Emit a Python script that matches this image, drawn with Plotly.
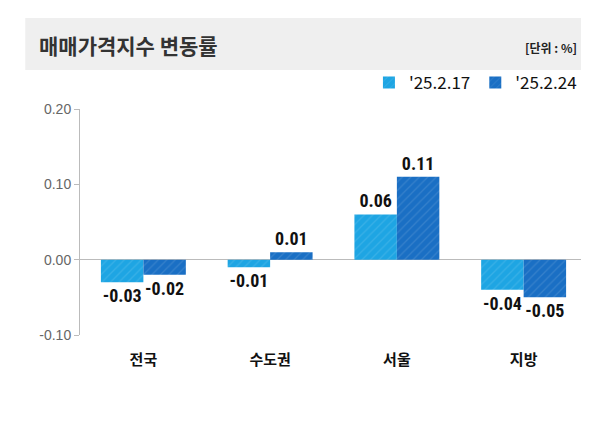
import plotly.graph_objects as go

categories = ["전국", "수도권", "서울", "지방"]
s1_name = "'25.2.17"
s2_name = "'25.2.24"
s1 = [-0.03, -0.01, 0.06, -0.04]
s2 = [-0.02, 0.01, 0.11, -0.05]
yticks = [-0.10, 0.00, 0.10, 0.20]

fig = go.Figure()
for name, vals, col in [(s1_name, s1, "#1EA5E3"), (s2_name, s2, "#1A6FC4")]:
    fig.add_bar(x=categories, y=vals, name=name, marker_color=col,
                marker_line_width=0,
                marker_pattern=dict(shape="/", fgcolor="white", fgopacity=0.12, size=6, solidity=0.2),
                text=[f"<b>{v:.2f}</b>" for v in vals], textposition="outside",
                textfont=dict(family="Roboto Condensed, Roboto", size=18, color="#111"), cliponaxis=False)

fig.update_layout(
    width=589, height=421, paper_bgcolor="white", plot_bgcolor="white",
    margin=dict(l=72, r=10, t=101, b=94, autoexpand=False),
    barmode="group", bargap=0.33, bargroupgap=0,
    font=dict(family="Noto Sans CJK KR"),
    legend=dict(orientation="h", x=0.99, xanchor="right", yref="container", y=0.822, yanchor="middle",
                font=dict(family="Noto Sans CJK KR", size=17, color="#111"),
                itemwidth=30, traceorder="normal", bgcolor="rgba(0,0,0,0)"),
    showlegend=True,
    shapes=[dict(type="rect", xref="paper", yref="paper", x0=-0.108, x1=1.012,
                 y0=1.173, y1=1.403, fillcolor="#EFEFEF", line_width=0, layer="below")],
    annotations=[
        dict(text="<b>매매가격지수 변동률</b>", xref="paper", yref="paper", x=-0.085, y=1.285,
             xanchor="left", yanchor="middle", showarrow=False,
             font=dict(size=21, color="#333", family="Noto Sans CJK KR")),
        dict(text="<b>[단위 : %]</b>", xref="paper", yref="paper", x=0.985, y=1.27,
             xanchor="right", yanchor="middle", showarrow=False,
             font=dict(size=12, color="#222", family="Noto Sans CJK KR")),
    ],
)
fig.update_yaxes(range=[-0.10, 0.20], tickvals=yticks, ticktext=[f"{v:.2f}" for v in yticks],
                 showgrid=False, showline=True, linecolor="#bbb", ticks="outside", ticklen=5,
                 tickcolor="#bbb", zeroline=True, zerolinecolor="#bbb", zerolinewidth=1,
                 tickfont=dict(family="Liberation Sans", size=14, color="#666"))
fig.update_xaxes(showline=False, showgrid=False, ticks="",
                 tickvals=categories, ticktext=[f"<b>{c}</b>" for c in categories],
                 tickfont=dict(family="Noto Sans CJK KR", size=15, color="#111"))
fig.for_each_xaxis(lambda a: a.update(ticklabelstandoff=14))
fig.write_html("out.html")
